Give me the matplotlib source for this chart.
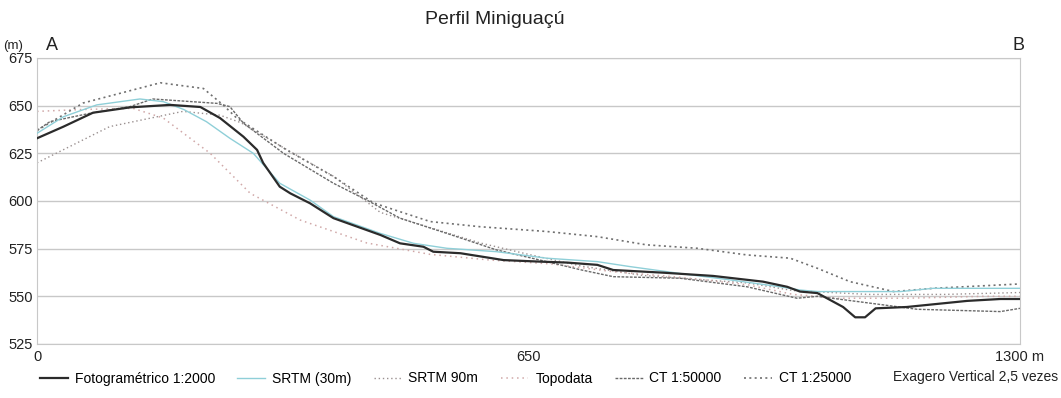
import matplotlib
matplotlib.use("Agg")
import matplotlib.pyplot as plt

plt.rcParams['font.family'] = ['Liberation Sans', 'DejaVu Sans']

# Fotogramétrico 1:2000 (distance m, elevation m)
foto_x = [0, 35, 74, 123, 176, 216, 242, 273, 291, 299, 321, 335, 361, 392, 454, 480, 511,
          524, 560, 617, 665, 701, 741, 762, 828, 894, 960, 992, 1009, 1032, 1066, 1082,
          1095, 1109, 1150, 1230, 1274, 1300]
foto_y = [632.9, 639, 646.3, 649.1, 650.4, 649.3, 643.5, 633.7, 626.8, 620, 607.5, 604, 598.8,
          591, 582.2, 577.8, 576, 573.4, 572.6, 569, 568.2, 567.7, 566.5, 563.8, 562.4, 560.7,
          557.7, 555, 552.5, 551.7, 544.4, 539, 539, 543.7, 544.4, 547.6, 548.6, 548.6]

# SRTM (30m)
srtm30_x = [0, 35, 79, 136, 167, 194, 224, 255, 286, 321, 361, 392, 454, 498, 542, 608, 674,
            741, 784, 850, 917, 983, 1009, 1032, 1142, 1185, 1300]
srtm30_y = [635.5, 644.2, 650.4, 653.5, 652.1, 648, 641.6, 632.9, 625, 609.3, 600.5, 591.8,
            583, 577.8, 575.2, 573.4, 570, 568.2, 565.6, 562, 558.6, 555, 553.3, 552.5, 552.5,
            554.2, 554.2]

# SRTM 90m
srtm90_x = [0, 96, 193, 242, 270, 330, 392, 454, 520, 586, 650, 718, 800, 870, 940, 1000,
            1100, 1200, 1300]
srtm90_y = [620, 639, 647, 645, 641, 627, 613, 594, 586, 578, 572, 566, 561, 559, 557, 553,
            551, 551, 552]

# Topodata
topo_x = [0, 60, 127, 167, 229, 282, 348, 436, 520, 600, 680, 760, 850, 940, 1000, 1060,
          1150, 1250, 1300]
topo_y = [647, 648, 648.6, 643.5, 625, 604, 590, 578, 572, 569, 567, 563, 560, 556, 551,
          549, 549, 550, 550]

# CT 1:50000
ct50_x = [0, 17, 70, 123, 153, 238, 255, 273, 326, 392, 436, 480, 542, 608, 674, 718, 762,
          850, 939, 1005, 1032, 1164, 1274, 1300]
ct50_y = [637, 641.6, 646, 649.5, 653.5, 651.2, 649.5, 640.8, 625, 609.3, 600.5, 591, 583,
          574.3, 568.2, 564, 560.3, 559.5, 555, 549, 550, 543.2, 542, 543.7]

# CT 1:25000
ct25_x = [0, 61, 163, 220, 246, 264, 330, 392, 445, 480, 520, 586, 674, 741, 806, 873, 939,
          996, 1032, 1075, 1133, 1185, 1300]
ct25_y = [637, 651.4, 662, 659, 650.4, 643.5, 626.8, 612.8, 599, 594.4, 589.2, 586.5, 584,
          581.3, 577, 575.2, 571.7, 570, 564.7, 557.7, 552.5, 554.2, 556.5]

y_ticks = [525, 550, 575, 600, 625, 650, 675]

fig = plt.figure(figsize=(10.61, 3.98), dpi=100)
ax = fig.add_axes([0.0349, 0.1357, 0.9265, 0.7186])

ax.plot(foto_x, foto_y, color="#2b2b2b", lw=1.6, label="Fotogramétrico 1:2000", zorder=6)
ax.plot(srtm30_x, srtm30_y, color="#8fcfd8", lw=1.0, label="SRTM (30m)", zorder=5)
ax.plot(srtm90_x, srtm90_y, color="#9a9090", lw=1.0, ls=(0, (1, 2)), label="SRTM 90m")
ax.plot(topo_x, topo_y, color="#d0a8a8", lw=1.1, ls=(0, (1, 2.5)), label="Topodata")
ax.plot(ct50_x, ct50_y, color="#6a6a6a", lw=1.0, ls=(0, (2, 1)), label="CT 1:50000")
ax.plot(ct25_x, ct25_y, color="#707070", lw=1.2, ls=(0, (1.2, 2)), label="CT 1:25000")

ax.set_xlim(0, 1300)
ax.set_ylim(525, 675)
ax.set_yticks(y_ticks)
ax.set_xticks([0, 650, 1300])
ax.set_xticklabels(["0", "650", "1300 m"])
ax.grid(axis="y", color="#c8c8c8", lw=1)
ax.set_axisbelow(True)
for s in ax.spines.values():
    s.set_color("#c8c8c8")
ax.tick_params(length=0, labelsize=10.5, colors="#222222")
ax.tick_params(axis="y", pad=3)
ax.tick_params(axis="x", pad=4)

fig.text(0.466, 0.95, "Perfil Miniguaçú", ha="center", va="center", fontsize=14, color="#222222")
fig.text(0.003, 0.885, "(m)", ha="left", va="center", fontsize=9.5, color="#222222")
fig.text(0.043, 0.885, "A", ha="left", va="center", fontsize=13, color="#222222")
fig.text(0.954, 0.885, "B", ha="left", va="center", fontsize=13, color="#222222")

fig.legend(loc="lower left", bbox_to_anchor=(0.026, 0.0), ncol=6, frameon=False,
           fontsize=10, handlelength=2.0, columnspacing=1.6, handletextpad=0.5)
fig.text(0.997, 0.052, "Exagero Vertical 2,5 vezes", ha="right", va="center", fontsize=10,
         color="#222222")

fig.savefig("out.png", dpi=100)
